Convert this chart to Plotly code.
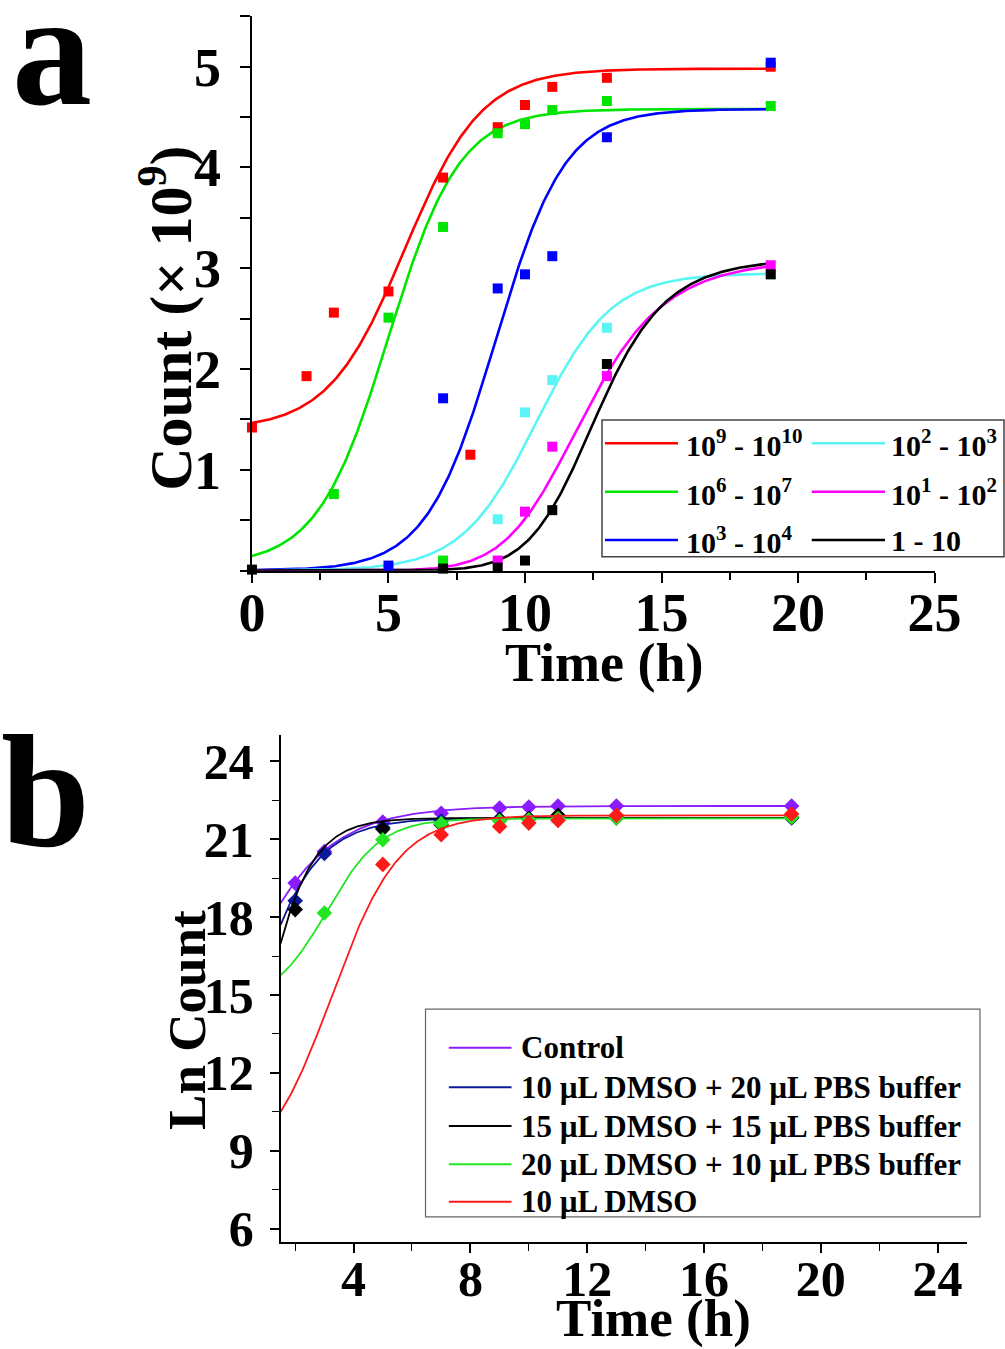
import numpy as np
import plotly.graph_objects as go

# ---------------- Panel a: growth curves for different inoculum ranges ----------------
A_LABELS = ["10<sup>9</sup> - 10<sup>10</sup>", "10<sup>6</sup> - 10<sup>7</sup>",
            "10<sup>3</sup> - 10<sup>4</sup>", "10<sup>2</sup> - 10<sup>3</sup>",
            "10<sup>1</sup> - 10<sup>2</sup>", "1 - 10"]
A_COLORS = ["#ff0000", "#00e600", "#0000ff", "#5cf5f5", "#ff00ff", "#000000"]

# measured counts (x 10^9)
a_t_red = [0, 2, 3, 5, 7, 8, 9, 10, 11, 13, 19]
a_y_red = [1.42, 1.93, 2.56, 2.77, 3.90, 1.15, 4.40, 4.62, 4.80, 4.89, 5.00]
a_t_green = [3, 5, 7, 7, 9, 10, 11, 13, 19]
a_y_green = [0.76, 2.51, 3.41, 0.10, 4.34, 4.43, 4.57, 4.66, 4.61]
a_t_blue = [5, 7, 9, 10, 11, 13, 19]
a_y_blue = [0.05, 1.71, 2.80, 2.94, 3.12, 4.30, 5.04]
a_t_cyan = [9, 10, 11, 13, 19]
a_y_cyan = [0.51, 1.57, 1.89, 2.41, 2.94]
a_t_mag = [9, 10, 11, 13, 19]
a_y_mag = [0.10, 0.585, 1.23, 1.93, 3.03]
a_t_blk = [0, 7, 9, 10, 11, 13, 19]
a_y_blk = [0.01, 0.02, 0.03, 0.10, 0.60, 2.05, 2.94]

# fitted sigmoid parameters: (model, A1, A2, x0, width-or-power)
a_fit_red = ("boltzmann", 1.40, 4.98, 5.60, 1.40)
a_fit_green = ("boltzmann", 0.05, 4.58, 5.00, 1.30)
a_fit_blue = ("boltzmann", 0.0, 4.58, 8.93, 1.27)
a_fit_cyan = ("boltzmann", 0.0, 2.95, 10.42, 1.37)
a_fit_mag = ("logistic", 0.0, 3.10, 12.18, 8.2)
a_fit_blk = ("logistic", 0.0, 3.10, 12.64, 10.0)

# ---------------- Panel b: ln count under DMSO / PBS conditions ----------------
B_LABELS = ["Control", "10 \u00b5L DMSO + 20 \u00b5L PBS buffer",
            "15 \u00b5L DMSO + 15 \u00b5L PBS buffer",
            "20 \u00b5L DMSO + 10 \u00b5L PBS buffer", "10 \u00b5L DMSO"]
B_COLORS = ["#8a1cff", "#0a1a9c", "#000000", "#22e622", "#ff1a1a"]

b_t_ctrl = [2, 3, 5, 7, 9, 10, 11, 13, 19]
b_y_ctrl = [19.31, 20.53, 21.66, 22.00, 22.20, 22.24, 22.28, 22.28, 22.28]
b_t_d10p20 = [2, 3, 5, 7, 9, 10, 11, 13, 19]
b_y_d10p20 = [18.63, 20.45, 21.45, 21.70, 21.78, 21.80, 21.82, 21.82, 21.82]
b_t_d15p15 = [2, 5, 7, 9, 10, 11, 13, 19]
b_y_d15p15 = [18.29, 21.39, 21.56, 21.75, 21.80, 21.92, 21.85, 21.85]
b_t_d20p10 = [3, 5, 7, 9, 10, 11, 13, 19]
b_y_d20p10 = [18.16, 20.98, 21.60, 21.70, 21.75, 21.80, 21.82, 21.85]
b_t_d10 = [5, 7, 9, 10, 11, 13, 19]
b_y_d10 = [20.03, 21.17, 21.49, 21.62, 21.72, 21.92, 21.97]

b_fit_ctrl = ("boltzmann", 0.0, 22.28, -1.22, 1.70)
b_fit_d10p20 = ("boltzmann", 0.0, 21.82, -0.25, 1.20)
b_fit_d15p15 = ("boltzmann", 0.0, 21.82, 0.37, 0.90)
b_fit_d20p10 = ("boltzmann", 14.65, 21.80, 3.08, 0.93)
b_fit_d10 = ("boltzmann", 8.0, 21.92, 3.25, 1.15)


def fit_curve(params, x):
    model, a1, a2, x0, w = params
    if model == "boltzmann":
        return a2 + (a1 - a2) / (1.0 + np.exp((x - x0) / w))
    return a2 + (a1 - a2) / (1.0 + (x / x0) ** w)


SERIF = "Liberation Serif"
fig = go.Figure()

a_series = [
    (a_t_red, a_y_red, a_fit_red), (a_t_green, a_y_green, a_fit_green),
    (a_t_blue, a_y_blue, a_fit_blue), (a_t_cyan, a_y_cyan, a_fit_cyan),
    (a_t_mag, a_y_mag, a_fit_mag), (a_t_blk, a_y_blk, a_fit_blk),
]
xa = np.linspace(0, 19, 400)
for (t, y, fit), name, col in zip(a_series, A_LABELS, A_COLORS):
    fig.add_trace(go.Scatter(x=xa, y=fit_curve(fit, xa), mode="lines", name=name,
                             line=dict(color=col, width=2.6), showlegend=False,
                             xaxis="x", yaxis="y"))
for (t, y, fit), name, col in zip(a_series, A_LABELS, A_COLORS):
    fig.add_trace(go.Scatter(x=t, y=y, mode="markers", name=name, showlegend=False,
                             marker=dict(symbol="square", size=10, color=col),
                             cliponaxis=False, xaxis="x", yaxis="y"))

b_series = [
    (b_t_ctrl, b_y_ctrl, b_fit_ctrl), (b_t_d10p20, b_y_d10p20, b_fit_d10p20),
    (b_t_d15p15, b_y_d15p15, b_fit_d15p15), (b_t_d20p10, b_y_d20p10, b_fit_d20p10),
    (b_t_d10, b_y_d10, b_fit_d10),
]
xb = np.linspace(1.5, 19, 400)
for (t, y, fit), name, col in zip(b_series, B_LABELS, B_COLORS):
    fig.add_trace(go.Scatter(x=xb, y=fit_curve(fit, xb), mode="lines", name=name,
                             line=dict(color=col, width=1.8), showlegend=False,
                             xaxis="x2", yaxis="y2"))
    fig.add_trace(go.Scatter(x=t, y=y, mode="markers", name=name, showlegend=False,
                             marker=dict(symbol="diamond", size=12, color=col),
                             cliponaxis=False, xaxis="x2", yaxis="y2"))

# ---- hand-built legends (long line samples, boxed) ----
shapes, annos = [], []


def legend_entry(x_line0, x_line1, x_text, y, color, text, size, lw):
    shapes.append(dict(type="line", xref="paper", yref="paper", x0=x_line0, x1=x_line1,
                       y0=y, y1=y, line=dict(color=color, width=lw)))
    annos.append(dict(xref="paper", yref="paper", x=x_text, y=y, xanchor="left",
                      yanchor="middle", showarrow=False, text=f"<b>{text}</b>",
                      font=dict(family=SERIF, size=size, color="black")))


shapes.append(dict(type="rect", xref="paper", yref="paper", x0=0.599, x1=0.999,
                   y0=0.5873, y1=0.6887, line=dict(color="#444", width=1.5),
                   fillcolor="white", layer="above"))
a_rows = [0.6714, 0.6355, 0.5997]
for i in range(3):
    legend_entry(0.602, 0.6746, 0.6806, a_rows[i], A_COLORS[i], A_LABELS[i], 30, 2.6)
    legend_entry(0.8077, 0.8806, 0.8846, a_rows[i], A_COLORS[i + 3], A_LABELS[i + 3], 30, 2.6)

shapes.append(dict(type="rect", xref="paper", yref="paper", x0=0.4234, x1=0.9751,
                   y0=0.0979, y1=0.2520, line=dict(color="#666", width=1.2),
                   fillcolor="white", layer="above"))
b_rows = [0.2234, 0.1940, 0.1653, 0.1369, 0.1092]
for i in range(5):
    legend_entry(0.4466, 0.5090, 0.5164, b_rows[i], B_COLORS[i], B_LABELS[i], 31, 2.0)


# ---- axis titles and panel letters ----
def text_anno(x, y, text, size, angle=0):
    annos.append(dict(xref="paper", yref="paper", x=x, y=y, xanchor="center",
                      yanchor="middle", showarrow=False, textangle=angle,
                      text=f"<b>{text}</b>", font=dict(family=SERIF, size=size, color="black")))


text_anno(0.166, 0.7643, "Count (\u00d7 10<sup>9</sup>)", 60, -90)
text_anno(0.601, 0.5085, "Time (h)", 54)
text_anno(0.186, 0.2439, "Ln Count", 53, -90)
text_anno(0.6507, 0.0225, "Time (h)", 53)
text_anno(0.052, 0.963, "a", 160)
text_anno(0.0448, 0.4129, "b", 160)

axis_font = dict(family=SERIF, size=54, color="black")
common = dict(showgrid=False, zeroline=False, showline=True, linecolor="black",
              ticks="outside", tickcolor="black", automargin=False)

fig.update_layout(
    template="none",
    width=1005, height=1349, margin=dict(l=0, r=0, t=0, b=0, autoexpand=False),
    paper_bgcolor="white", plot_bgcolor="white", showlegend=False,
    font=dict(family=SERIF, color="black"),
    xaxis=dict(domain=[0.2507, 0.9299], range=[0, 25], anchor="y",
               tickmode="array", tickvals=[0, 5, 10, 15, 20, 25],
               ticktext=["<b>%d</b>" % v for v in [0, 5, 10, 15, 20, 25]],
               linewidth=2.2, ticklen=10, tickwidth=2.2, ticklabelstandoff=-17,
               tickfont=axis_font,
               minor=dict(ticks="outside", tick0=0, dtick=2.5, ticklen=7,
                          tickwidth=2, tickcolor="black"), **common),
    yaxis=dict(domain=[0.5770, 0.9879], range=[0, 5.5], anchor="x",
               tickmode="array", tickvals=[1, 2, 3, 4, 5],
               ticktext=["<b>%d</b>" % v for v in [1, 2, 3, 4, 5]],
               linewidth=2.2, ticklen=10, tickwidth=2.2, ticklabelstandoff=8,
               tickfont=axis_font,
               minor=dict(ticks="outside", tick0=0, dtick=0.5, ticklen=10,
                          tickwidth=2, tickcolor="black"), **common),
    xaxis2=dict(domain=[0.2792, 0.962], range=[1.5, 25], anchor="y2",
                tickmode="array", tickvals=[4, 8, 12, 16, 20, 24],
                ticktext=["<b>%d</b>" % v for v in [4, 8, 12, 16, 20, 24]],
                linewidth=1.6, ticklen=9, tickwidth=1.6, ticklabelstandoff=-17,
                tickfont=dict(family=SERIF, size=50, color="black"),
                minor=dict(ticks="outside", tick0=0, dtick=2, ticklen=7,
                           tickwidth=1.4, tickcolor="black"), **common),
    yaxis2=dict(domain=[0.0795, 0.4549], range=[5.5, 25], anchor="x2",
                tickmode="array", tickvals=[6, 9, 12, 15, 18, 21, 24],
                ticktext=["<b>%d</b>" % v for v in [6, 9, 12, 15, 18, 21, 24]],
                linewidth=1.6, ticklen=9, tickwidth=1.6, ticklabelstandoff=6,
                tickfont=dict(family=SERIF, size=50, color="black"),
                minor=dict(ticks="outside", tick0=0, dtick=1.5, ticklen=7,
                           tickwidth=1.4, tickcolor="black"), **common),
    shapes=shapes, annotations=annos,
)

fig.write_html("out.html")
